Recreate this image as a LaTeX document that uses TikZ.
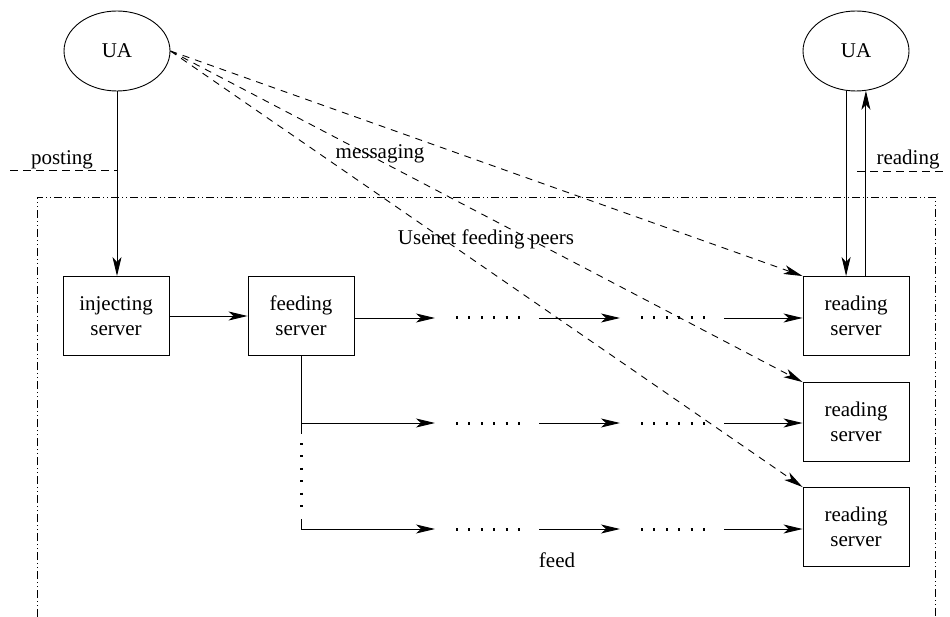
\documentclass[tikz,border=0pt]{standalone}
\usepackage{fontspec}
\setmainfont{Liberation Serif}
\usetikzlibrary{arrows.meta,shapes.geometric}

\tikzset{
  base/.style={line width=0.9pt},
  arr/.style={base,-{Stealth[length=19pt,width=9pt,inset=5pt]}},
  msg/.style={arr,dash pattern=on 7pt off 6pt},
  sep/.style={base,dash pattern=on 8pt off 5pt},
  frame/.style={base,dash pattern=on 8pt off 3pt on 1pt off 3pt on 1pt off 3pt},
  hdots/.style={line width=3pt,dash pattern=on 2pt off 10.4pt},
  srv/.style={draw,base,rectangle,minimum width=106pt,minimum height=79pt,
              align=center,inner sep=0pt,font=\fontsize{21}{25}\selectfont},
  ua/.style={draw,base,ellipse,minimum width=106pt,minimum height=80pt,
             inner sep=0pt,font=\fontsize{21}{25}\selectfont},
  lbl/.style={anchor=base,inner sep=0pt,font=\fontsize{21}{25}\selectfont}
}

\begin{document}
\begin{tikzpicture}[x=1pt,y=-1pt]
\useasboundingbox (0,0) rectangle (950,617);

% user agents
\node[ua] (ua1) at (117,51) {UA};
\node[ua] (ua2) at (856,51) {UA};

% servers
\node[srv] (is)  at (116,316) {injecting\\server};
\node[srv] (fs)  at (301,316) {feeding\\server};
\node[srv] (rs1) at (856,316) {reading\\server};
\node[srv] (rs2) at (856,422) {reading\\server};
\node[srv] (rs3) at (856,527) {reading\\server};

% boundary of the feeding peers
\draw[frame] (37,617) -- (37,197) -- (935,197) -- (935,617);

% separators for posting and reading
\draw[sep] (10,170) -- (117,170);
\draw[sep] (857,171) -- (947,171);
\node[lbl] (lpost) at (62,165) {posting};
\node[lbl] (lread) at (908,165) {reading};
\node[lbl] (lmsg)  at (380,159) {messaging};
\node[lbl] (lpeer) at (486,245) {Usenet feeding peers};
\node[lbl] (lfeed) at (557,567) {feed};

% posting and reading
\draw[arr] (ua1.south) -- (ua1.south |- is.north);
\draw[arr] (ua2.256) -- (ua2.256 |- rs1.north);
\draw[arr] (ua2.284 |- rs1.north) -- (ua2.284);

% messaging
\draw[msg] (ua1.east) -- (rs1.north west);
\draw[msg] (ua1.east) -- (rs2.north west);
\draw[msg] (ua1.east) -- (rs3.north west);

% injection
\draw[arr] (is.east) -- (fs.west);

% feed rows
\coordinate (b1) at (301,318);
\coordinate (b2) at (301,423);
\coordinate (b3) at (301,529);
\coordinate (v1) at (301,434);
\coordinate (v2) at (301,519);

\draw[base] (fs.south) -- (v1);
\draw[line width=3pt,dash pattern=on 2pt off 10.4pt] (301,443) -- (301,508);
\draw[base] (v2) -- (b3);

\foreach \r/\s/\y in {1/rs1/318,2/rs2/423,3/rs3/529}{
  \coordinate (t\r a) at (435,\y);
  \coordinate (d\r a) at (456,\y);
  \coordinate (d\r b) at (521,\y);
  \coordinate (s\r a) at (539,\y);
  \coordinate (t\r b) at (620,\y);
  \coordinate (d\r c) at (641,\y);
  \coordinate (d\r d) at (706,\y);
  \coordinate (s\r b) at (724,\y);
  \draw[hdots] (d\r a) -- (d\r b);
  \draw[arr] (s\r a) -- (t\r b);
  \draw[hdots] (d\r c) -- (d\r d);
  \draw[arr] (s\r b) -- (\s.west |- s\r b);
}
\draw[arr] (fs.east |- b1) -- (t1a);
\draw[arr] (b2) -- (t2a);
\draw[arr] (b3) -- (t3a);
\end{tikzpicture}
\end{document}
